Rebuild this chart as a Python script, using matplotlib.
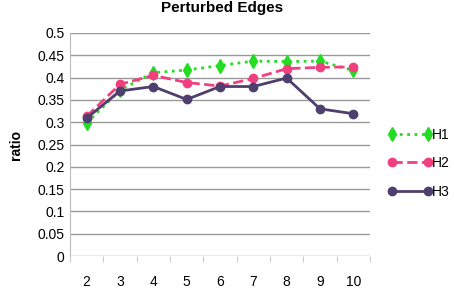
import matplotlib
matplotlib.use('agg')
import matplotlib.pyplot as plt

plt.rcParams['font.family'] = ['Liberation Sans', 'DejaVu Sans']

cats = ['2', '3', '4', '5', '6', '7', '8', '9', '10']
h1 = [0.298, 0.372, 0.411, 0.417, 0.427, 0.437, 0.436, 0.437, 0.416]
h2 = [0.313, 0.385, 0.405, 0.389, 0.381, 0.398, 0.420, 0.423, 0.424]
h3 = [0.309, 0.370, 0.380, 0.351, 0.380, 0.380, 0.399, 0.330, 0.319]
yticks = [0, 0.05, 0.1, 0.15, 0.2, 0.25, 0.3, 0.35, 0.4, 0.45, 0.5]
ylabels = ['0', '0.05', '0.1', '0.15', '0.2', '0.25', '0.3', '0.35', '0.4', '0.45', '0.5']

fig = plt.figure(figsize=(4.54, 2.99), dpi=100)
ax = fig.add_axes([70/454, 1 - 256/299, 300/454, 223/299])
x = list(range(len(cats)))

l1, = ax.plot(x, h1, color='#22dd22', linestyle=':', linewidth=2,
              marker='d', markersize=7, label='H1')
l2, = ax.plot(x, h2, color='#f0407f', linestyle='--', linewidth=2,
              marker='o', markersize=6, label='H2')
l3, = ax.plot(x, h3, color='#4e3f6e', linestyle='-', linewidth=2,
              marker='o', markersize=6, label='H3')

ax.set_xlim(-0.5, len(cats) - 0.5)
ax.set_ylim(0, 0.5)
ax.set_yticks(yticks)
ax.set_yticklabels(ylabels, fontsize=10)
ax.set_xticks(x)
ax.set_xticklabels(cats, fontsize=10)
ax.tick_params(axis='x', length=0, pad=14)
ax.tick_params(axis='y', length=0, pad=4)
ax.set_xticks([i + 0.5 for i in range(-1, len(cats))], minor=True)
ax.tick_params(axis='x', which='minor', length=4, color='#bbbbbb', direction='out')
ax.yaxis.grid(True, color='#999999', linewidth=1)
ax.set_axisbelow(True)
for s in ['top', 'right', 'bottom']:
    ax.spines[s].set_visible(False)
ax.spines['left'].set_color('#bbbbbb')
ax.set_ylabel('ratio', fontsize=10, fontweight='bold', labelpad=10)

fig.text(0.49, 0.972, 'Perturbed Edges', ha='center', va='center',
         fontsize=11, fontweight='bold')
fig.legend(handles=[l1, l2, l3], loc='upper left', bbox_to_anchor=(382/454, 1 - 122/299),
           frameon=False, fontsize=10, handlelength=3.2, labelspacing=1.05,
           handletextpad=0.0, borderaxespad=0, numpoints=2)

fig.savefig('out.png', dpi=100)
